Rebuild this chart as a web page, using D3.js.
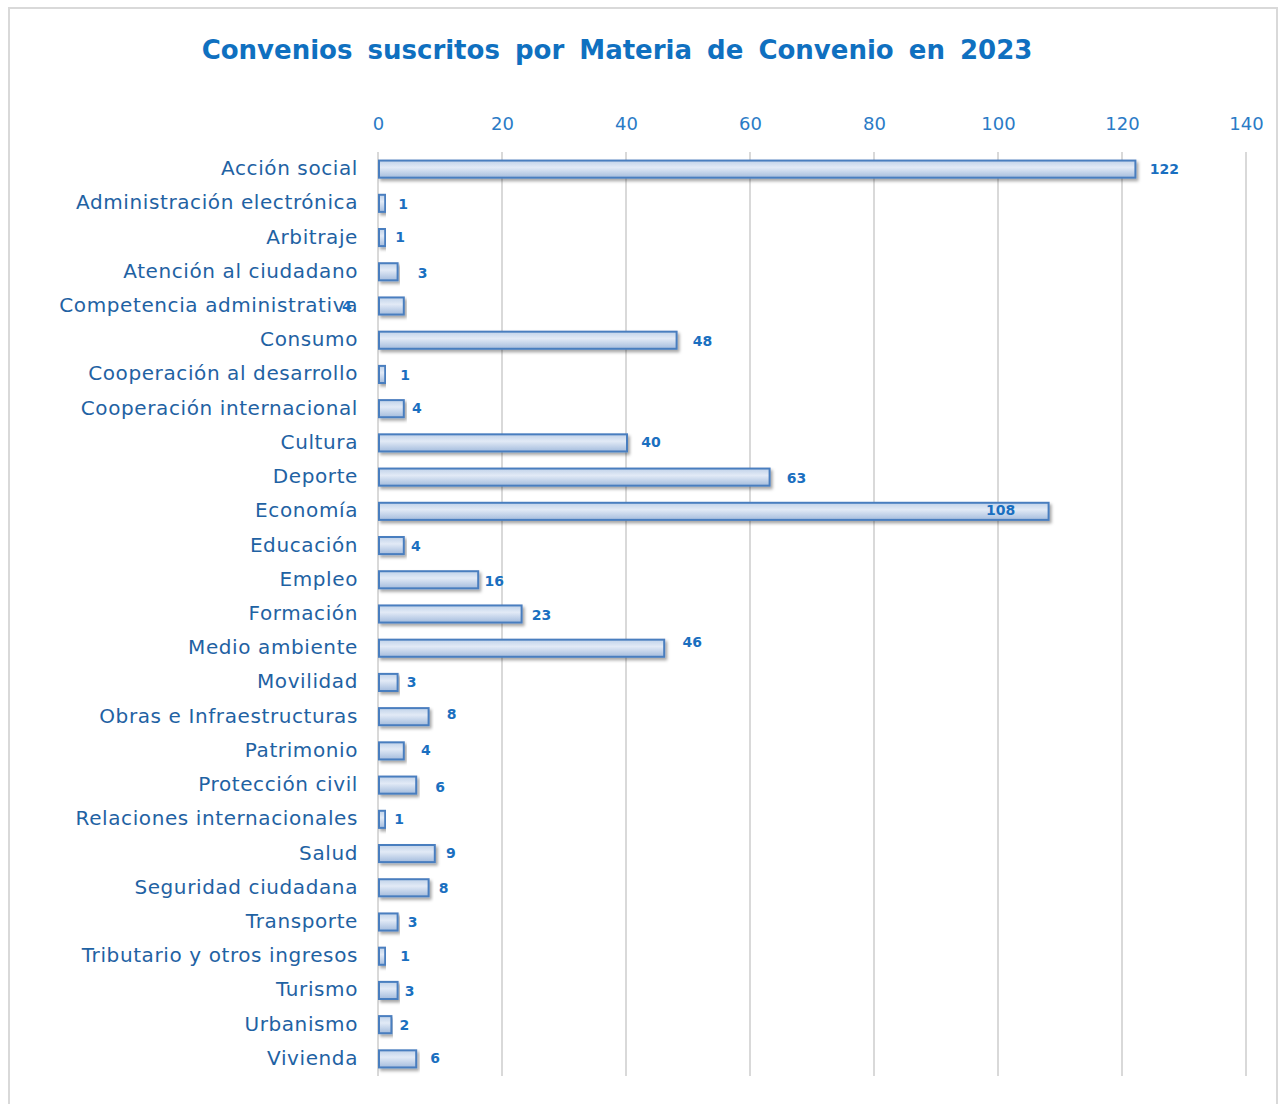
<!DOCTYPE html>
<html>
<head>
<meta charset="utf-8">
<script src="https://cdn.jsdelivr.net/npm/d3@7"></script>
<style>
  body { margin: 0; background: #fff; }
  text { font-family: Verdana, "DejaVu Sans", sans-serif; }
</style>
</head>
<body>
<div id="chart"></div>
<script>
// data
var categories = ['Acción social', 'Administración electrónica', 'Arbitraje', 'Atención al ciudadano',
  'Competencia administrativa', 'Consumo', 'Cooperación al desarrollo', 'Cooperación internacional',
  'Cultura', 'Deporte', 'Economía', 'Educación', 'Empleo', 'Formación', 'Medio ambiente', 'Movilidad',
  'Obras e Infraestructuras', 'Patrimonio', 'Protección civil', 'Relaciones internacionales', 'Salud',
  'Seguridad ciudadana', 'Transporte', 'Tributario y otros ingresos', 'Turismo', 'Urbanismo', 'Vivienda'];
var values = [122, 1, 1, 3, 4, 48, 1, 4, 40, 63, 108, 4, 16, 23, 46, 3, 8, 4, 6, 1, 9, 8, 3, 1, 3, 2, 6];
var ticks = [0, 20, 40, 60, 80, 100, 120, 140];
var title = 'Convenios suscritos por Materia de Convenio en 2023';

// label nudges (px) to mimic the hand-placed data labels
var labelDx = [30, 19, 16, 26, -56, 27, 21, 14, 25, 28, -47, 13, 17, 21, 29, 15, 24, 23, 25, 15, 17, 16, 16, 21, 13, 14, 20];
var labelDy = [0, 1, 0, 1, 0, 1, 1, -1, -1, 1, -1, 1, 1, 1, -6, 0, -3, -1, 2, 0, 0, 0, 0, 0, 1, 0, -1];

const W = 1283, H = 1104;
const plotLeft = 378, plotRight = 1246;
const plotTop = 152, plotBottom = 1076;

var svg = d3.select('#chart').append('svg')
  .attr('width', W)
  .attr('height', H);

var defs = svg.append('defs');
var grad = defs.append('linearGradient')
  .attr('id', 'barGrad')
  .attr('x1', 0).attr('y1', 0).attr('x2', 0).attr('y2', 1);
grad.append('stop').attr('offset', '0%').attr('stop-color', '#c0d2e9');
grad.append('stop').attr('offset', '40%').attr('stop-color', '#e2eaf6');
grad.append('stop').attr('offset', '100%').attr('stop-color', '#a4bcdd');

var shadow = defs.append('filter').attr('id', 'shadow')
  .attr('x', '-5%').attr('y', '-30%').attr('width', '115%').attr('height', '180%');
shadow.append('feDropShadow')
  .attr('dx', 2).attr('dy', 2.5).attr('stdDeviation', 1.5)
  .attr('flood-color', '#000').attr('flood-opacity', 0.35);

// frame
svg.append('rect')
  .attr('x', 9).attr('y', 8)
  .attr('width', 1268).attr('height', H + 10)
  .attr('fill', 'none')
  .attr('stroke', '#d9d9d9')
  .attr('stroke-width', 2);

// title
svg.append('text')
  .attr('x', 617).attr('y', 59)
  .attr('text-anchor', 'middle')
  .attr('font-size', 26)
  .attr('font-weight', 'bold')
  .attr('word-spacing', 6)
  .attr('fill', '#0f70c0')
  .text(title);

var x = d3.scaleLinear().domain([0, 140]).range([plotLeft, plotRight]);
var y = d3.scaleBand().domain(categories).range([plotTop, plotBottom]).paddingInner(0.5).paddingOuter(0.25);

// gridlines
svg.append('g')
  .selectAll('line')
  .data(ticks)
  .join('line')
  .attr('x1', d => x(d)).attr('x2', d => x(d))
  .attr('y1', plotTop).attr('y2', plotBottom)
  .attr('stroke', '#d9d9d9')
  .attr('stroke-width', 2);

// top axis
var xAxis = svg.append('g')
  .attr('transform', `translate(0,${plotTop - 22})`)
  .call(d3.axisTop(x).tickValues(ticks).tickSize(0).tickPadding(0));
xAxis.select('.domain').remove();
xAxis.selectAll('text')
  .attr('font-size', 18)
  .attr('fill', '#2a7bc6');

// category labels
var yAxis = svg.append('g')
  .attr('transform', `translate(${plotLeft - 20},0)`)
  .call(d3.axisLeft(y).tickSize(0).tickPadding(0));
yAxis.select('.domain').remove();
yAxis.selectAll('text')
  .attr('font-size', 20)
  .attr('letter-spacing', 0.6)
  .attr('fill', '#1f62a3')
  .attr('dy', '0.3em');

// bars
svg.append('g')
  .selectAll('rect')
  .data(values)
  .join('rect')
  .attr('x', x(0) + 1)
  .attr('y', (d, i) => y(categories[i]))
  .attr('width', d => x(d) - x(0))
  .attr('height', y.bandwidth())
  .attr('fill', 'url(#barGrad)')
  .attr('stroke', '#4a7ebf')
  .attr('stroke-width', 2)
  .attr('filter', 'url(#shadow)');

// value labels
svg.append('g')
  .selectAll('text')
  .data(values)
  .join('text')
  .attr('x', (d, i) => x(d) + labelDx[i])
  .attr('y', (d, i) => y(categories[i]) + y.bandwidth() / 2 + labelDy[i])
  .attr('dy', '0.35em')
  .attr('text-anchor', 'middle')
  .attr('font-size', 14)
  .attr('font-weight', 'bold')
  .attr('fill', '#1a6fc0')
  .text(d => d);
</script>
</body>
</html>
